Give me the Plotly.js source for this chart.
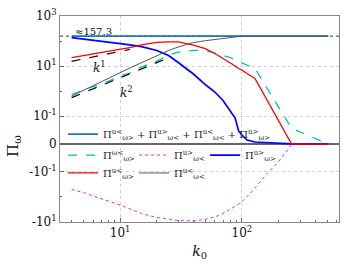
<!DOCTYPE html>
<html><head><meta charset="utf-8">
<script src="https://cdn.plot.ly/plotly-3.0.1.min.js"></script>
<style>html,body{margin:0;padding:0;background:#fff}#c{width:351px;height:270px}</style>
</head><body><div id="c"></div>
<script>
// k0 grid for the main curves
const kMain = [4,5,6,8,10,12,15,20,25,30,40,50,60,70,80,88,94,100,110,128,256,512];
const total = [157.3,157.3,157.3,157.3,157.3,157.3,157.3,157.3,157.3,157.3,157.3,157.3,157.3,157.3,157.3,157.3,157.3,157.3,157.3,157.3,157.3,157.3];
const cyanVals = [0.735,1.06,1.5,2.49,4.0,5.3,9.2,15.7,27.7,36.5,42.3,41.9,33.3,26.4,22,17.5,15.3,13.9,11.6,8.15,0.0565,0];
const blueVals = [138,122,109,95,79.6,70.6,60,41.9,26.4,13.9,4.83,1.84,0.925,0.423,0.177,0.0935,0.047,0.0325,0.0145,0.0073,0.0005,0];
const redVals = [22,26.4,31.8,40,48,55,70,89,93,93,69,50,31.8,20,14.5,10.1,8.0,7.0,5.05,3.2,0,0];
const grayVals = [0.64,1.06,1.63,3.2,5.45,8.4,13.9,26.4,41.9,57.7,87,103,117,128,137,146,152,157,157.3,157.3,157.3,157.3];
// magenta curve
const kMag = [4,5,6,8,10,15,20,30,40,50,65,80,100,120,140,160,195,220,256,512];
const magVals = [-0.5,-0.665,-0.92,-1.45,-2.1,-4.6,-6.6,-8.7,-9,-7.9,-5.5,-3.17,-1.55,-0.635,-0.25,-0.12,-0.069,-0.039,-0.002,0];
// reference slopes
const kRef1 = [4,12], ref1 = [15.5,46.5];
const kRef2 = [4,25], ref2 = [0.55,21.5];
const plateau = 157.3;
// y tick labels
const yTickVals = [1000,10,0.1,0,-0.1,-10];
const yTickText = ['10<sup>3</sup>','10<sup>1</sup>','10<sup>-1</sup>','0','-10<sup>-1</sup>','-10<sup>1</sup>'];
const yMinorVals = [100,1,-1];
const xTickVals = [10,100];
const xTickText = ['10<sup>1</sup>','10<sup>2</sup>'];

// symlog transform (linthresh 0.1, linscale 1, base 10)
const LT = 0.1, LS = 1/(1-1/10);
function sy(v){const a=Math.abs(v); if(a<=LT) return v/LT*LS; return Math.sign(v)*(LS+Math.log10(a/LT));}
const T = a => a.map(sy);

const F = 'DejaVu Serif';
const P = (s,b) => 'Π<sup>'+s+'</sup><sub>'+b+'</sub>';

const traces = [
 {x:kMain,y:T(total),mode:'lines',line:{color:'#1f77b4',width:1.8},name:P('u&lt;','ω&gt;')+' + '+P('u&gt;','ω&lt;')+' + '+P('u&lt;','ω&lt;')+' + '+P('u&gt;','ω&gt;'),legend:'legend'},
 {x:kMain,y:T(cyanVals),mode:'lines',line:{color:'#00bfbf',width:1.3,dash:'dash'},name:P('ω&lt;','ω&gt;'),legend:'legend2'},
 {x:kMag,y:T(magVals),mode:'lines',line:{color:'#cc33cc',width:1,dash:'dot'},name:P('u&gt;','ω&lt;'),legend:'legend2'},
 {x:kMain,y:T(blueVals),mode:'lines',line:{color:'#0000ff',width:1.7},name:P('u&gt;','ω&gt;'),legend:'legend2'},
 {x:kMain,y:T(redVals),mode:'lines',line:{color:'#ff0000',width:1.3},name:P('u&lt;','ω&gt;'),legend:'legend3'},
 {x:kMain,y:T(grayVals),mode:'lines',line:{color:'#555555',width:1},name:P('u&lt;','ω&lt;'),legend:'legend3'},
 {x:kRef1,y:T(ref1),mode:'lines',line:{color:'#000',width:1.2,dash:'dash'},showlegend:false},
 {x:kRef2,y:T(ref2),mode:'lines',line:{color:'#000',width:1.2,dash:'dash'},showlegend:false}
];

const legBase = {orientation:'h',xanchor:'left',yanchor:'middle',bgcolor:'rgba(0,0,0,0)',font:{family:F,size:10,color:'#222'},itemwidth:30,tracegroupgap:0};
const layout = {
 width:351,height:270,margin:{l:60,r:12,t:16,b:48},
 paper_bgcolor:'#fff',plot_bgcolor:'#fff',
 font:{family:F,color:'#222'},
 xaxis:{type:'log',range:[Math.log10(3.21),Math.log10(627)],tickvals:xTickVals,ticktext:xTickText,
   tickfont:{family:F,size:12,color:'#111'},ticks:'inside',ticklen:4,tickcolor:'#666',
   showline:true,mirror:true,linecolor:'#888',linewidth:1,showgrid:true,gridcolor:'#d0d0d0',griddash:'dot',zeroline:false,
   minor:{tickvals:[4,5,6,7,8,9,20,30,40,50,60,70,80,90,200,300,400,500,600],ticks:'inside',ticklen:2,tickcolor:'#666',showgrid:false},
   title:{text:'<i>k</i><sub>0</sub>',font:{family:F,size:14,color:'#111'},standoff:6}},
 yaxis:{range:[sy(-10),sy(1000)],tickvals:T(yTickVals),ticktext:yTickText,
   tickfont:{family:F,size:12,color:'#111'},ticks:'inside',ticklen:4,tickcolor:'#666',
   showline:true,mirror:true,linecolor:'#888',linewidth:1,showgrid:true,gridcolor:'#d0d0d0',griddash:'dot',
   zeroline:true,zerolinecolor:'#666',zerolinewidth:1.6,
   minor:{tickvals:T(yMinorVals),ticks:'inside',ticklen:2,tickcolor:'#666',showgrid:false}},
 legend:Object.assign({},legBase,{x:0.011,y:0.427}),
 legend2:Object.assign({},legBase,{x:0.011,y:0.325,entrywidth:26,entrywidthmode:'pixels'}),
 legend3:Object.assign({},legBase,{x:0.011,y:0.238,entrywidth:26,entrywidthmode:'pixels'}),
 shapes:[{type:'line',xref:'paper',x0:0,x1:1,yref:'y',y0:sy(plateau),y1:sy(plateau),line:{color:'#000',width:0.8,dash:'dot'},layer:'below'}],
 annotations:[
  {text:'≈157.3',xref:'paper',yref:'paper',x:0.045,y:0.927,xanchor:'left',yanchor:'middle',showarrow:false,font:{family:F,size:10,color:'#111'}},
  {text:'<i>k</i><sup>1</sup>',xref:'paper',yref:'paper',x:0.143,y:0.752,xanchor:'center',yanchor:'middle',showarrow:false,font:{family:F,size:12,color:'#111'}},
  {text:'<i>k</i><sup>2</sup>',xref:'paper',yref:'paper',x:0.24,y:0.631,xanchor:'center',yanchor:'middle',showarrow:false,font:{family:F,size:12,color:'#111'}},
  {text:'Π<sub>ω</sub>',xref:'paper',yref:'paper',x:-0.165,y:0.369,xanchor:'center',yanchor:'middle',textangle:-90,showarrow:false,font:{family:F,size:15,color:'#111'}}
 ]
};
Plotly.newPlot('c',traces,layout,{staticPlot:true,displayModeBar:false});
</script></body></html>
